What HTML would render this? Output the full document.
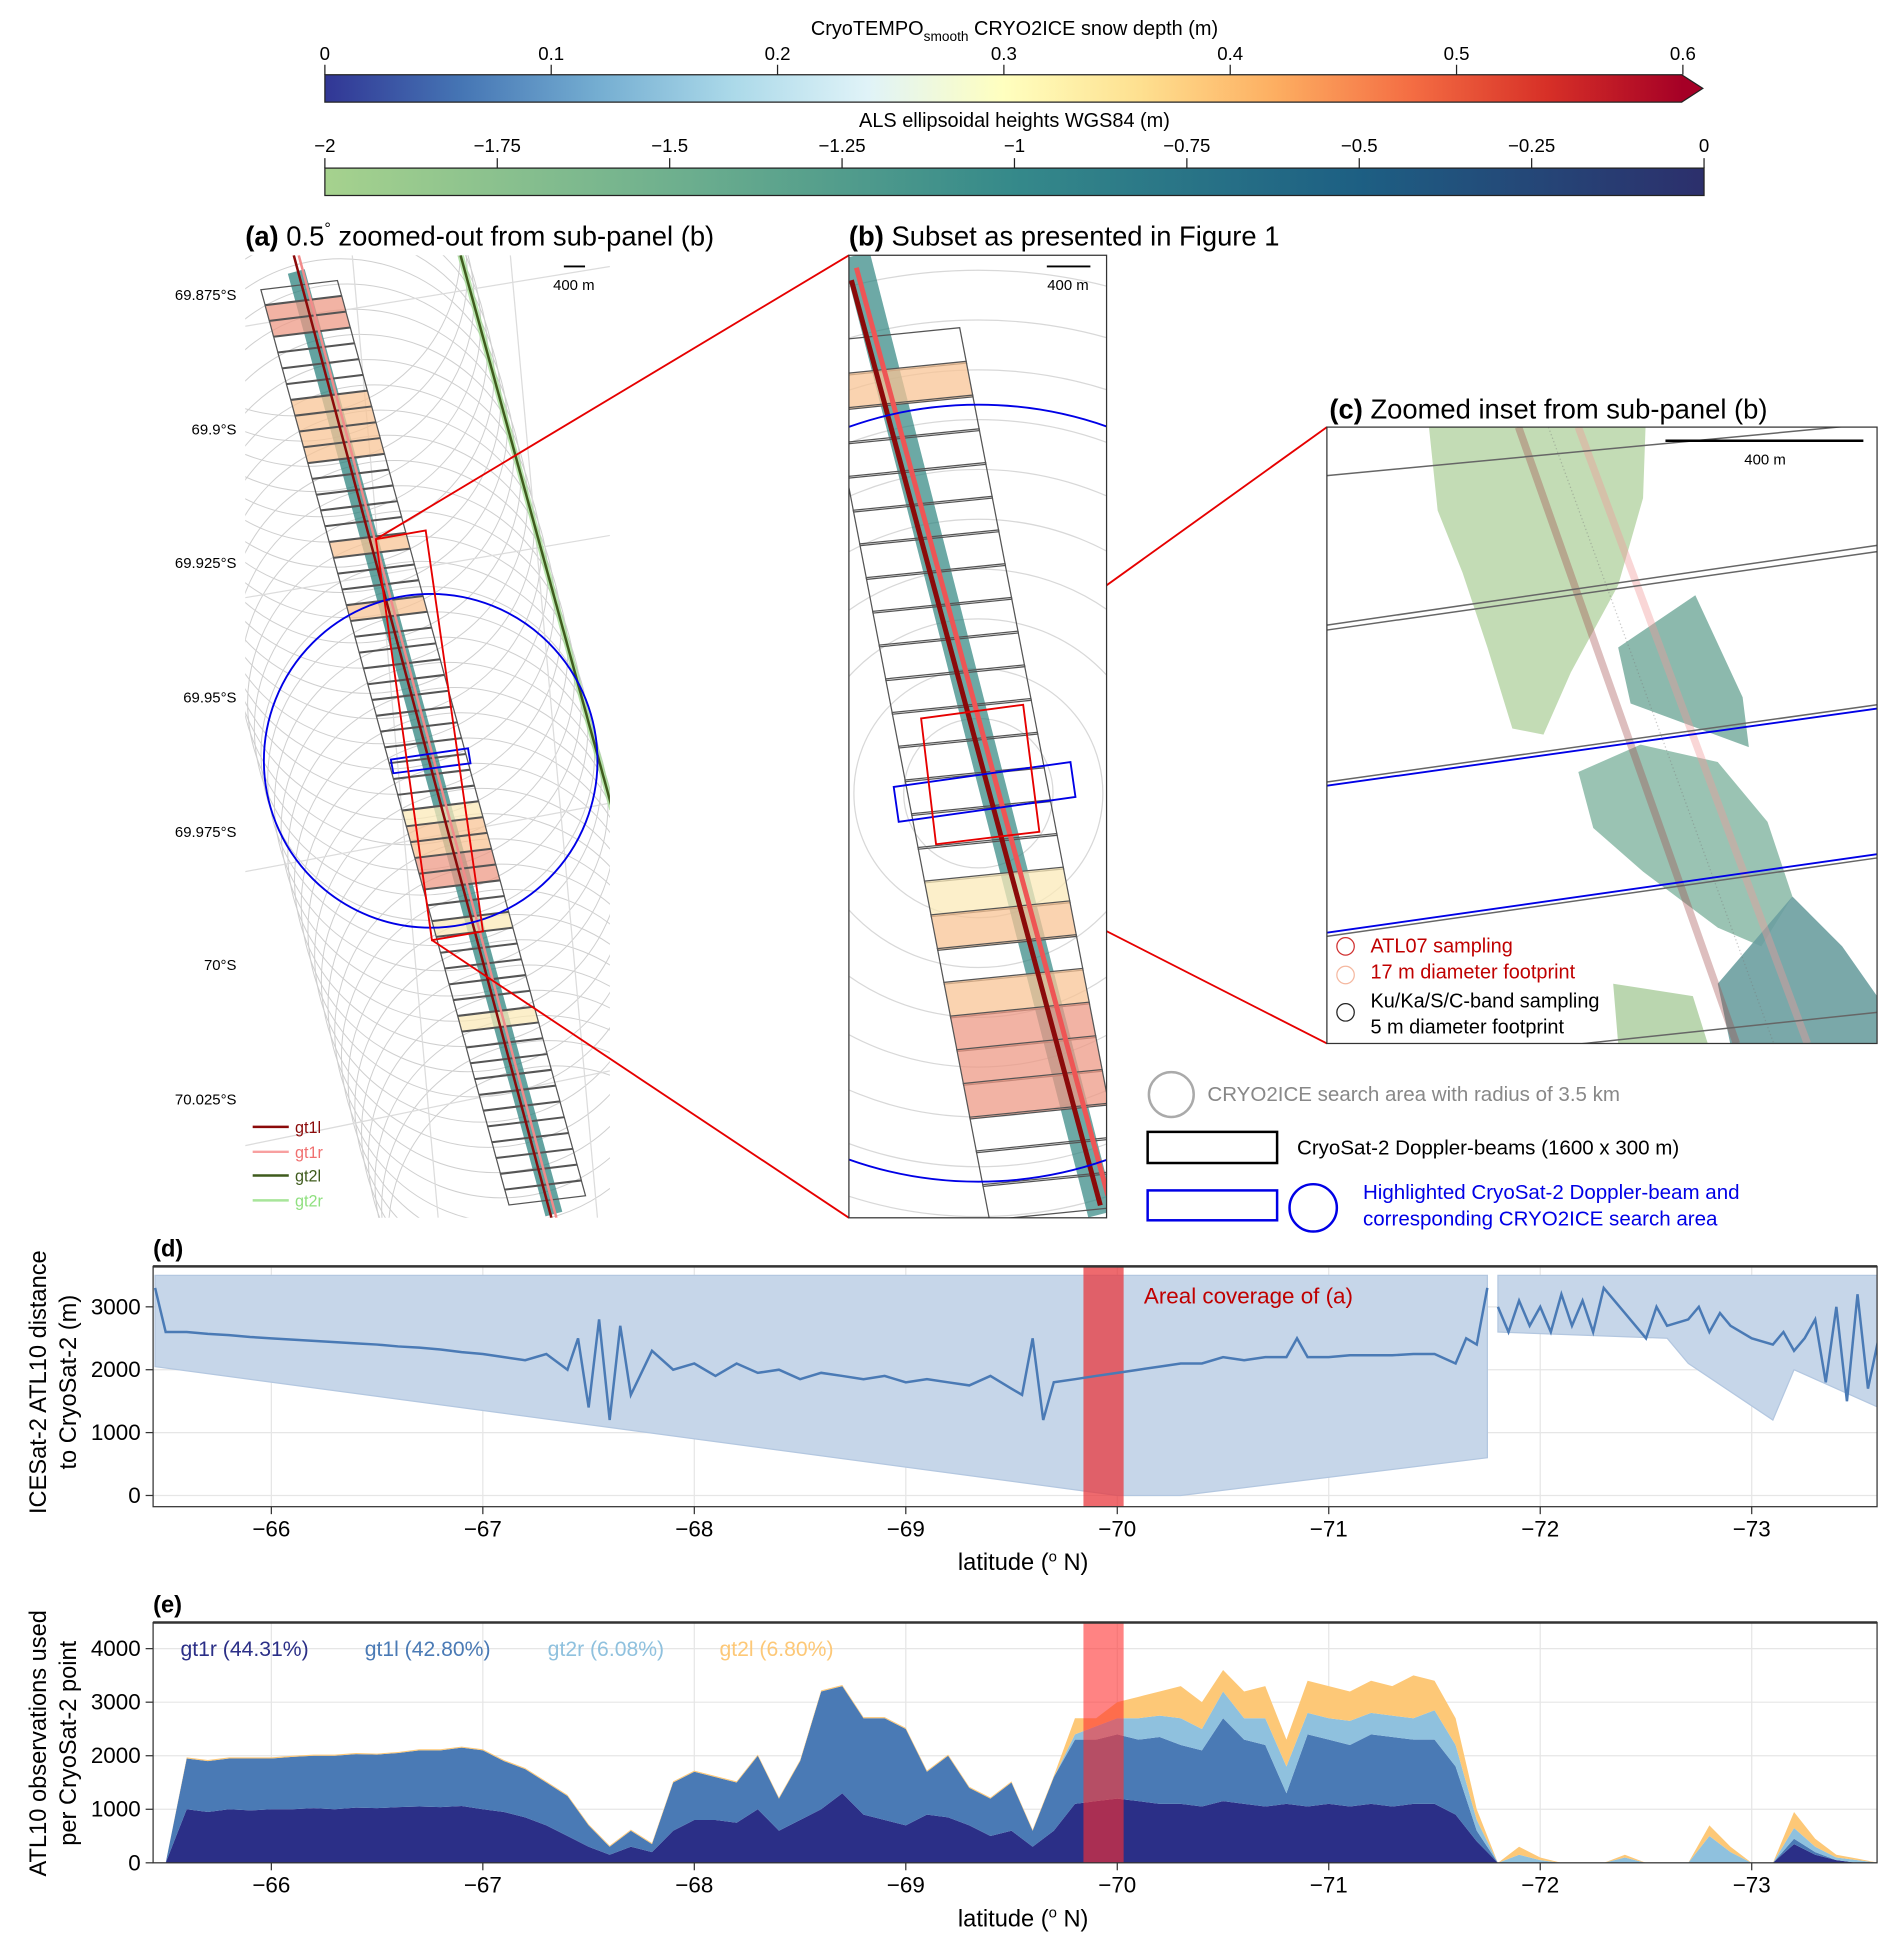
<!DOCTYPE html>
<html><head><meta charset="utf-8"><title>CRYO2ICE figure</title>
<style>
html,body{margin:0;padding:0;background:#fff;}
svg{display:block;font-family:"Liberation Sans",Arial,sans-serif;}
</style></head>
<body>
<svg id="fig" width="1892" height="1945" viewBox="0 0 1520 1562" preserveAspectRatio="none" xmlns="http://www.w3.org/2000/svg">
<defs>
<linearGradient id="gSnow" x1="0" x2="1" y1="0" y2="0">
<stop offset="0" stop-color="#313695"/><stop offset="0.1" stop-color="#4575b4"/><stop offset="0.2" stop-color="#74add1"/><stop offset="0.3" stop-color="#abd9e9"/><stop offset="0.4" stop-color="#e0f3f8"/><stop offset="0.5" stop-color="#ffffbf"/><stop offset="0.6" stop-color="#fee090"/><stop offset="0.7" stop-color="#fdae61"/><stop offset="0.8" stop-color="#f46d43"/><stop offset="0.9" stop-color="#d73027"/><stop offset="1" stop-color="#a50026"/>
</linearGradient>
<linearGradient id="gAls" x1="0" x2="1" y1="0" y2="0">
<stop offset="0" stop-color="#a6d28e"/><stop offset="0.25" stop-color="#6fb08e"/><stop offset="0.5" stop-color="#35898a"/><stop offset="0.75" stop-color="#1d5f83"/><stop offset="1" stop-color="#2c2f6c"/>
</linearGradient>
<clipPath id="clipA"><rect x="197" y="205" width="293" height="773"/></clipPath>
<clipPath id="clipB"><rect x="682" y="205" width="207" height="773"/></clipPath>
<clipPath id="clipC"><rect x="1066" y="343" width="442" height="495"/></clipPath>
<clipPath id="clipD"><rect x="123" y="1017" width="1385" height="193"/></clipPath>
<clipPath id="clipE"><rect x="123" y="1303" width="1385" height="193"/></clipPath>
</defs>

<g>
<text x="815" y="28" font-size="16" text-anchor="middle">CryoTEMPO<tspan font-size="11" dy="5">smooth</tspan><tspan dy="-5"> CRYO2ICE snow depth (m)</tspan></text>
<rect x="261" y="60" width="1091" height="22" fill="url(#gSnow)"/>
<polygon points="1351,60 1368,71 1351,82" fill="#a50026"/>
<path d="M261,60 H1351 L1368,71 L1351,82 H261 Z" fill="none" stroke="#222" stroke-width="1"/>
<g id="snowTicks" font-size="15" text-anchor="middle"></g>
</g>
<g>
<text x="815" y="102" font-size="16" text-anchor="middle">ALS ellipsoidal heights WGS84 (m)</text>
<rect x="261" y="135" width="1108" height="22" fill="url(#gAls)" stroke="#222" stroke-width="1"/>
<g id="alsTicks" font-size="15" text-anchor="middle"></g>
</g>

<text x="197" y="197" font-size="22"><tspan font-weight="bold">(a)</tspan> 0.5<tspan dy="-9" font-size="13">°</tspan><tspan dy="9"> zoomed-out from sub-panel (b)</tspan></text>
<text x="682" y="197" font-size="22"><tspan font-weight="bold">(b)</tspan> Subset as presented in Figure 1</text>
<text x="1068" y="336" font-size="22"><tspan font-weight="bold">(c)</tspan> Zoomed inset from sub-panel (b)</text>

<g id="panelA">
<g clip-path="url(#clipA)">
<g id="aCircles" fill="none" stroke="#cfcfcf" stroke-width="0.8"></g>
<g stroke="#dcdcdc" stroke-width="1">
<line x1="197" y1="262" x2="490" y2="214"/><line x1="197" y1="480" x2="490" y2="430"/><line x1="197" y1="700" x2="490" y2="645"/><line x1="197" y1="920" x2="490" y2="860"/>
<line x1="283" y1="205" x2="352" y2="978"/><line x1="410" y1="205" x2="480" y2="978"/>
</g>
<line x1="370" y1="205" x2="492" y2="650" stroke="#9fdc8f" stroke-width="5" opacity="0.7"/>
<line x1="370" y1="205" x2="492" y2="650" stroke="#3f5b1d" stroke-width="2"/>
<line x1="238" y1="218" x2="445" y2="975" stroke="#2f8580" stroke-width="14" opacity="0.75"/>
<g id="aBoxes"></g>
<line x1="240" y1="205" x2="447" y2="978" stroke="#f28a8a" stroke-width="2"/>
<line x1="236" y1="205" x2="443" y2="978" stroke="#8b0a0a" stroke-width="2"/>
<circle cx="346" cy="611" r="134" fill="none" stroke="#0000e6" stroke-width="1.5"/>
<polygon points="314,610 376,601 378,613 316,621" fill="none" stroke="#0000e6" stroke-width="1.5"/>
<polygon points="302,433 342,426 388,748 347,755" fill="none" stroke="#e60000" stroke-width="1.5"/>
</g>
<line x1="453" y1="214" x2="470" y2="214" stroke="#000" stroke-width="1.5"/>
<text x="461" y="233" font-size="12" text-anchor="middle">400 m</text>
<g font-size="12" text-anchor="end">
<text x="190" y="241">69.875°S</text><text x="190" y="349">69.9°S</text><text x="190" y="456">69.925°S</text><text x="190" y="564">69.95°S</text><text x="190" y="672">69.975°S</text><text x="190" y="779">70°S</text><text x="190" y="887">70.025°S</text>
</g>
<g font-size="13">
<line x1="203" y1="905" x2="232" y2="905" stroke="#8b0a0a" stroke-width="2"/><text x="237" y="910" fill="#8b0a0a">gt1l</text>
<line x1="203" y1="925" x2="232" y2="925" stroke="#f8a0a0" stroke-width="2"/><text x="237" y="930" fill="#f07070">gt1r</text>
<line x1="203" y1="944" x2="232" y2="944" stroke="#3f5b1d" stroke-width="2"/><text x="237" y="949" fill="#3f5b1d">gt2l</text>
<line x1="203" y1="964" x2="232" y2="964" stroke="#a8e59a" stroke-width="2"/><text x="237" y="969" fill="#8fe07f">gt2r</text>
</g>
</g>

<g stroke="#e60000" stroke-width="1.5">
<line x1="302" y1="433" x2="682" y2="205"/><line x1="347" y1="755" x2="682" y2="978"/>
<line x1="740" y1="577" x2="1066" y2="343"/><line x1="752" y1="678" x2="1066" y2="838"/>
</g>

<g id="panelB">
<rect x="682" y="205" width="207" height="773" fill="#fff"/>
<g clip-path="url(#clipB)">
<g id="bCircles" fill="none" stroke="#d8d8d8" stroke-width="1"></g>
<line x1="688" y1="205" x2="885" y2="975" stroke="#2f8580" stroke-width="22" opacity="0.7"/>
<g id="bBoxes"></g>
<line x1="684" y1="225" x2="884" y2="968" stroke="#8b0a0a" stroke-width="4"/>
<line x1="688" y1="215" x2="890" y2="960" stroke="#ee5555" stroke-width="4"/>
<circle cx="786" cy="637" r="312" fill="none" stroke="#0000e6" stroke-width="1.5"/>
<polygon points="718,632 860,612 864,640 722,660" fill="none" stroke="#0000e6" stroke-width="1.5"/>
<polygon points="740,577 822,566 835,668 752,678" fill="none" stroke="#e60000" stroke-width="1.5"/>
</g>
<rect x="682" y="205" width="207" height="773" fill="none" stroke="#333" stroke-width="1"/>
<line x1="841" y1="214" x2="876" y2="214" stroke="#000" stroke-width="1.5"/>
<text x="858" y="233" font-size="12" text-anchor="middle">400 m</text>
</g>

<g id="panelC">
<rect x="1066" y="343" width="442" height="495" fill="#fff"/>
<g clip-path="url(#clipC)">
<polygon points="1148,343 1322,343 1320,400 1300,470 1262,540 1240,590 1215,585 1195,520 1175,460 1155,410" fill="#b8d6a8" opacity="0.85"/>
<polygon points="1300,520 1362,478 1400,560 1405,600 1310,565" fill="#7fb1a4" opacity="0.9"/>
<polygon points="1268,620 1318,598 1380,612 1420,660 1440,720 1415,760 1380,745 1320,700 1280,665" fill="#8fbcab" opacity="0.9"/>
<polygon points="1380,790 1440,720 1480,760 1508,800 1508,838 1390,838" fill="#6c9fa0" opacity="0.9"/>
<polygon points="1296,790 1360,800 1372,838 1300,838" fill="#b3d2a6" opacity="0.9"/>
<line x1="1220" y1="343" x2="1395" y2="838" stroke="#a04848" stroke-width="6" opacity="0.35"/>
<line x1="1268" y1="343" x2="1452" y2="838" stroke="#f19a9a" stroke-width="6" opacity="0.4"/>
<line x1="1244" y1="343" x2="1425" y2="838" stroke="#777" stroke-width="1" opacity="0.4" stroke-dasharray="1,2"/>
<g stroke="#666" stroke-width="1.2" fill="none">
<line x1="1066" y1="382" x2="1508" y2="340"/>
<line x1="1066" y1="502" x2="1508" y2="438"/><line x1="1066" y1="506" x2="1508" y2="443"/>
<line x1="1066" y1="628" x2="1508" y2="566"/>
<line x1="1066" y1="752" x2="1508" y2="689"/>
<line x1="1066" y1="860" x2="1508" y2="813"/>
</g>
<line x1="1066" y1="631" x2="1508" y2="569" stroke="#0000e6" stroke-width="1.5"/>
<line x1="1066" y1="749" x2="1508" y2="686" stroke="#0000e6" stroke-width="1.5"/>
</g>
<rect x="1066" y="343" width="442" height="495" fill="none" stroke="#333" stroke-width="1"/>
<line x1="1338" y1="354" x2="1497" y2="354" stroke="#000" stroke-width="2"/>
<text x="1418" y="373" font-size="12" text-anchor="middle">400 m</text>
<g font-size="16">
<circle cx="1081" cy="760" r="7" fill="none" stroke="#d03030" stroke-width="1"/><text x="1101" y="765" fill="#c00000">ATL07 sampling</text>
<circle cx="1081" cy="783" r="7" fill="none" stroke="#f5b8a0" stroke-width="1"/><text x="1101" y="786" fill="#c00000">17 m diameter footprint</text>
<circle cx="1081" cy="813" r="7" fill="none" stroke="#222" stroke-width="1"/><text x="1101" y="809">Ku/Ka/S/C-band sampling</text><text x="1101" y="830">5 m diameter footprint</text>
</g>
</g>

<g font-size="16.5">
<circle cx="941" cy="879" r="18" fill="none" stroke="#aaa" stroke-width="2"/>
<text x="970" y="884" fill="#888">CRYO2ICE search area with radius of 3.5 km</text>
<rect x="922" y="909" width="104" height="25" fill="none" stroke="#000" stroke-width="2"/>
<text x="1042" y="927">CryoSat-2 Doppler-beams (1600 x 300 m)</text>
<rect x="922" y="956" width="104" height="24" fill="none" stroke="#0000e6" stroke-width="2"/>
<circle cx="1055" cy="970" r="19" fill="none" stroke="#0000e6" stroke-width="2"/>
<text x="1095" y="963" fill="#0000e6">Highlighted CryoSat-2 Doppler-beam and</text>
<text x="1095" y="984" fill="#0000e6">corresponding CRYO2ICE search area</text>
</g>

<g id="panelD">
<text x="123" y="1009" font-size="19" font-weight="bold">(d)</text>
<g id="dGrid"></g>
<g clip-path="url(#clipD)">
<g id="dBand"></g>
<rect id="dRed" fill="#e8383d" opacity="0.75"/>
<g id="dLine"></g>
</g>
<rect x="123" y="1017" width="1385" height="193" fill="none" stroke="#333" stroke-width="1"/>
<line x1="123" y1="1017" x2="1508" y2="1017" stroke="#333" stroke-width="2"/>
<text x="919" y="1047" font-size="18" fill="#c00000">Areal coverage of (a)</text>
<g id="dTicks" font-size="18"></g>
<text x="822" y="1261" font-size="19" text-anchor="middle">latitude (<tspan dy="-7" font-size="12">o</tspan><tspan dy="7"> N)</tspan></text>
<g transform="translate(0,1110) rotate(-90)" font-size="19" text-anchor="middle">
<text x="0" y="37">ICESat-2 ATL10 distance</text><text x="0" y="61">to CryoSat-2 (m)</text></g>
</g>

<g id="panelE">
<text x="123" y="1295" font-size="19" font-weight="bold">(e)</text>
<g id="eGrid"></g>
<g clip-path="url(#clipE)">
<g id="eAreas"></g>
<rect id="eRed" fill="#ff3030" opacity="0.6"/>
</g>
<rect x="123" y="1303" width="1385" height="193" fill="none" stroke="#333" stroke-width="1"/>
<line x1="123" y1="1303" x2="1508" y2="1303" stroke="#333" stroke-width="2"/>
<g font-size="17">
<text x="145" y="1330" fill="#2b2f87">gt1r (44.31%)</text>
<text x="293" y="1330" fill="#4a7ab5">gt1l (42.80%)</text>
<text x="440" y="1330" fill="#8fc1de">gt2r (6.08%)</text>
<text x="578" y="1330" fill="#fdc877">gt2l (6.80%)</text>
</g>
<g id="eTicks" font-size="18"></g>
<text x="822" y="1547" font-size="19" text-anchor="middle">latitude (<tspan dy="-7" font-size="12">o</tspan><tspan dy="7"> N)</tspan></text>
<g transform="translate(0,1400) rotate(-90)" font-size="19" text-anchor="middle">
<text x="0" y="37">ATL10 observations used</text><text x="0" y="61">per CryoSat-2 point</text></g>
</g>
</svg>
<script>
const snowTickLabels = ["0","0.1","0.2","0.3","0.4","0.5","0.6"];
const alsTickLabels = ["-2","-1.75","-1.5","-1.25","-1","-0.75","-0.5","-0.25","0"];
const latTicks = [-66,-67,-68,-69,-70,-71,-72,-73];
const dYTicks = [0,1000,2000,3000];
const eYTicks = [0,1000,2000,3000,4000];
const highlightLat = [-69.84,-70.03];

const dLat = [-65.45,-65.5,-65.6,-65.7,-65.8,-65.9,-66.0,-66.1,-66.2,-66.3,-66.4,-66.5,-66.6,-66.7,-66.8,-66.9,-67.0,-67.1,-67.2,-67.3,-67.4,-67.45,-67.5,-67.55,-67.6,-67.65,-67.7,-67.8,-67.9,-68.0,-68.1,-68.2,-68.3,-68.4,-68.5,-68.6,-68.7,-68.8,-68.9,-69.0,-69.1,-69.2,-69.3,-69.4,-69.5,-69.55,-69.6,-69.65,-69.7,-69.8,-69.9,-70.0,-70.1,-70.2,-70.3,-70.4,-70.5,-70.6,-70.7,-70.8,-70.85,-70.9,-71.0,-71.1,-71.2,-71.3,-71.4,-71.5,-71.6,-71.65,-71.7,-71.75,-71.78,-71.8,-71.85,-71.9,-71.95,-72.0,-72.05,-72.1,-72.15,-72.2,-72.25,-72.3,-72.4,-72.5,-72.55,-72.6,-72.7,-72.75,-72.8,-72.85,-72.9,-73.0,-73.1,-73.15,-73.2,-73.25,-73.3,-73.35,-73.4,-73.45,-73.5,-73.55,-73.6];
const dDist = [3300,2600,2600,2570,2550,2520,2500,2480,2460,2440,2420,2400,2370,2350,2320,2280,2250,2200,2150,2250,2000,2500,1400,2800,1200,2700,1600,2300,2000,2100,1900,2100,1950,2000,1850,1950,1900,1850,1900,1800,1850,1800,1750,1900,1700,1600,2500,1200,1800,1850,1900,1950,2000,2050,2100,2100,2200,2150,2200,2200,2500,2200,2200,2230,2230,2230,2250,2250,2100,2500,2400,3300,null,3000,2600,3100,2700,3000,2600,3200,2700,3100,2600,3300,2900,2500,3000,2700,2800,3000,2600,2900,2700,2500,2400,2600,2300,2500,2800,1800,3000,1500,3200,1700,2500];
const band1Lat = [-65.45,-70.0,-70.3,-71.75];
const band1Low = [2050,0,0,600];
const band2Lat = [-71.8,-72.6,-72.7,-73.1,-73.2,-73.6];
const band2Low = [2600,2500,2100,1200,2000,1400];
const bandTop = 3500;

const eLat = [-65.5,-65.6,-65.7,-65.8,-65.9,-66.0,-66.1,-66.2,-66.3,-66.4,-66.5,-66.6,-66.7,-66.8,-66.9,-67.0,-67.1,-67.2,-67.3,-67.4,-67.5,-67.6,-67.7,-67.8,-67.9,-68.0,-68.1,-68.2,-68.3,-68.4,-68.5,-68.6,-68.7,-68.8,-68.9,-69.0,-69.1,-69.2,-69.3,-69.4,-69.5,-69.6,-69.7,-69.8,-69.9,-70.0,-70.1,-70.2,-70.3,-70.4,-70.5,-70.6,-70.7,-70.8,-70.9,-71.0,-71.1,-71.2,-71.3,-71.4,-71.5,-71.6,-71.7,-71.8,-71.9,-72.0,-72.1,-72.2,-72.3,-72.4,-72.5,-72.6,-72.7,-72.8,-72.9,-73.0,-73.1,-73.2,-73.3,-73.4,-73.5,-73.6];
const gt1r = [0,1000,950,1000,980,1000,1000,1020,1000,1030,1020,1040,1050,1040,1060,1000,950,850,700,500,300,150,300,200,600,800,800,750,1000,600,800,1000,1300,900,800,700,900,850,700,500,600,300,600,1100,1150,1200,1150,1100,1100,1050,1150,1100,1050,1100,1050,1100,1050,1100,1050,1100,1100,900,400,0,0,0,0,0,0,0,0,0,0,0,0,0,0,350,150,50,0,0];
const gt1l = [0,950,950,950,970,950,980,980,1000,1000,1000,1010,1050,1060,1090,1100,950,900,800,750,400,150,300,150,900,900,800,750,1000,600,1100,2200,2000,1800,1900,1800,800,1150,700,700,900,300,1000,1200,1150,1200,1150,1250,1100,1050,1550,1200,1150,200,1350,1200,1150,1300,1300,1200,1200,900,200,0,0,0,0,0,0,0,0,0,0,0,0,0,0,100,50,0,0,0];
const gt2r = [0,0,0,0,0,0,0,0,0,0,0,0,0,0,0,0,0,0,0,0,0,0,0,0,0,0,0,0,0,0,0,0,0,0,0,0,0,0,0,0,0,0,0,100,250,300,400,400,500,400,500,400,500,500,400,400,450,400,400,400,550,400,200,0,150,50,0,0,0,100,0,0,0,500,200,0,0,200,100,50,50,0];
const gt2l = [0,20,20,20,20,20,20,20,20,20,20,20,20,20,20,20,20,20,20,20,20,20,20,20,20,20,20,20,20,20,20,20,20,20,20,20,20,20,20,20,20,20,20,300,150,300,400,450,600,500,400,500,600,500,600,600,550,600,550,800,550,500,200,0,150,50,0,0,0,50,0,0,0,200,100,0,0,300,150,50,30,0];

const NS = "http://www.w3.org/2000/svg";
function mk(tag, attrs, parent){const e=document.createElementNS(NS,tag);for(const k in attrs)e.setAttribute(k,attrs[k]);parent.appendChild(e);return e;}
const xS = lat => 218 + (-66 - lat) * 169.9;
const yD = v => 1201 - v * 0.0505;
const yE = v => 1496 - v * 0.0430;

(function(){
  const g=document.getElementById('snowTicks');
  snowTickLabels.forEach((t,i)=>{const x=261+i*(1091/6);
    mk('line',{x1:x,y1:52,x2:x,y2:60,stroke:'#222'},g);
    const tx=mk('text',{x:x,y:48},g);tx.textContent=t;
    
    });
  const g2=document.getElementById('alsTicks');
  alsTickLabels.forEach((t,i)=>{const x=261+i*(1108/8);
    mk('line',{x1:x,y1:127,x2:x,y2:135,stroke:'#222'},g2);
    const tx=mk('text',{x:x,y:122},g2);tx.textContent=t.replace('-','\u2212');
    
    });
})();

(function(){
  function boxes(gid, c0, c1, n, L, H, ang, fills){
    const g=document.getElementById(gid);
    const ux=Math.cos(ang), uy=Math.sin(ang);
    const dx=c1[0]-c0[0], dy=c1[1]-c0[1], dl=Math.hypot(dx,dy), vx=dx/dl, vy=dy/dl;
    for(let i=0;i<n;i++){
      const cx=c0[0]+dx*i/(n-1), cy=c0[1]+dy*i/(n-1);
      const p=[[-1,-1],[1,-1],[1,1],[-1,1]].map(([a,b])=>(cx+a*L/2*ux+b*H/2*vx).toFixed(1)+','+(cy+a*L/2*uy+b*H/2*vy).toFixed(1)).join(' ');
      const f=fills[i]||'none';
      const pg=mk('polygon',{points:p,fill:f,'fill-opacity':f==='none'?0:0.75,stroke:'#555','stroke-width':1},g);
      
      
    }
  }
  const S='#ee9a85', P='#f8c495', Y='#fbeab8';
  boxes('aBoxes',[242,235],[438,958],58,62,12.5,-0.12,{1:S,2:S,7:P,8:P,9:P,10:P,16:P,20:P,33:Y,34:P,35:P,36:S,37:S,40:Y,46:Y});
  boxes('bBoxes',[718,283],[848,960],26,112,29,-0.1,{1:P,16:Y,17:P,19:P,20:S,21:S,22:S});
  const ga=document.getElementById('aCircles');
  for(let i=0;i<40;i++){const t=i/39; mk('circle',{cx:236+210*t,cy:200+790*t,r:134},ga);}
  const gb=document.getElementById('bCircles');
  for(let r=60;r<=420;r+=40) mk('circle',{cx:786,cy:637,r:r},gb);
})();

(function(){
  const grid=document.getElementById('dGrid'), ticks=document.getElementById('dTicks');
  latTicks.forEach(l=>{const x=xS(l);
    mk('line',{x1:x,y1:1017,x2:x,y2:1210,stroke:'#e6e6e6'},grid);
    mk('line',{x1:x,y1:1210,x2:x,y2:1216,stroke:'#333'},ticks);
    const t=mk('text',{x:x,y:1234,'text-anchor':'middle'},ticks);t.textContent='\u2212'+Math.abs(l);
    
    });
  dYTicks.forEach(v=>{const y=yD(v);
    mk('line',{x1:123,y1:y,x2:1508,y2:y,stroke:'#e6e6e6'},grid);
    mk('line',{x1:117,y1:y,x2:123,y2:y,stroke:'#333'},ticks);
    const t=mk('text',{x:113,y:y+6,'text-anchor':'end'},ticks);t.textContent=v;
    
    });
  const band=document.getElementById('dBand');
  function bandPoly(lats,lows){
    let p=lats.map(l=>xS(l)+','+yD(bandTop));
    for(let i=lats.length-1;i>=0;i--)p.push(xS(lats[i])+','+yD(lows[i]));
    const e=mk('polygon',{points:p.join(' '),fill:'#c6d6e9',stroke:'#b3c7e0','stroke-width':1},band);
    
    
  }
  bandPoly(band1Lat,band1Low); bandPoly(band2Lat,band2Low);
  const r=document.getElementById('dRed');
  r.setAttribute('x',xS(highlightLat[0]));r.setAttribute('width',xS(highlightLat[1])-xS(highlightLat[0]));
  r.setAttribute('y',1017);r.setAttribute('height',193);
  let d='',pen=false;
  dLat.forEach((l,i)=>{const v=dDist[i]; if(v===null){pen=false;return;}
    d+=(pen?'L':'M')+xS(l).toFixed(1)+','+yD(v).toFixed(1);pen=true;});
  const ln=mk('path',{d:d,fill:'none',stroke:'#4a7ab5','stroke-width':2},document.getElementById('dLine'));
  
  
})();

(function(){
  const grid=document.getElementById('eGrid'), ticks=document.getElementById('eTicks');
  latTicks.forEach(l=>{const x=xS(l);
    mk('line',{x1:x,y1:1303,x2:x,y2:1496,stroke:'#e6e6e6'},grid);
    mk('line',{x1:x,y1:1496,x2:x,y2:1502,stroke:'#333'},ticks);
    const t=mk('text',{x:x,y:1520,'text-anchor':'middle'},ticks);t.textContent='\u2212'+Math.abs(l);
    
    });
  eYTicks.forEach(v=>{const y=yE(v);
    mk('line',{x1:123,y1:y,x2:1508,y2:y,stroke:'#e6e6e6'},grid);
    mk('line',{x1:117,y1:y,x2:123,y2:y,stroke:'#333'},ticks);
    const t=mk('text',{x:113,y:y+6,'text-anchor':'end'},ticks);t.textContent=v;
    
    });
  const series=[['gt1r',gt1r,'#2b2f87'],['gt1l',gt1l,'#4a7ab5'],['gt2r',gt2r,'#8fc1de'],['gt2l',gt2l,'#fdc877']];
  const g=document.getElementById('eAreas');
  let base=eLat.map(()=>0);
  series.forEach(([name,vals,col])=>{
    const top=base.map((b,i)=>b+vals[i]);
    let p=eLat.map((l,i)=>xS(l).toFixed(1)+','+yE(top[i]).toFixed(1));
    for(let i=eLat.length-1;i>=0;i--)p.push(xS(eLat[i]).toFixed(1)+','+yE(base[i]).toFixed(1));
    const a=mk('polygon',{points:p.join(' '),fill:col},g);
    
    
    base=top;
  });
  const r=document.getElementById('eRed');
  r.setAttribute('x',xS(highlightLat[0]));r.setAttribute('width',xS(highlightLat[1])-xS(highlightLat[0]));
  r.setAttribute('y',1303);r.setAttribute('height',193);
})();
</script>
</body></html>
